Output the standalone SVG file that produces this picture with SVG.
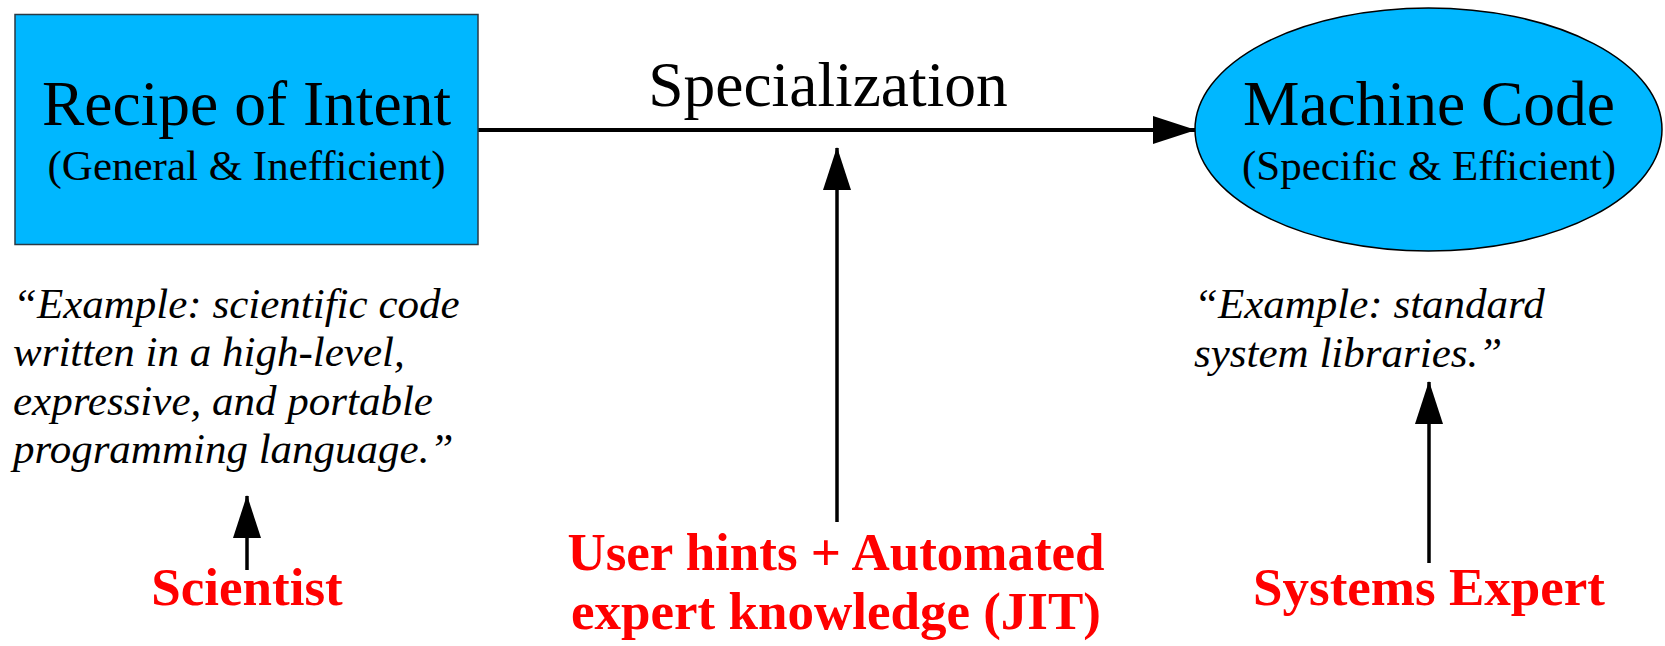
<svg xmlns="http://www.w3.org/2000/svg" width="1665" height="646" viewBox="0 0 1665 646">
  <defs>
    <marker id="arrow" markerUnits="userSpaceOnUse" markerWidth="43" markerHeight="28" refX="42" refY="14" orient="auto">
      <path d="M0,0 L43,14 L0,28 z" fill="#000"/>
    </marker>
    <style>
      .node-fill { fill: #00b7ff; }
      .title { font-family: "Liberation Serif", "Times New Roman", serif; font-size: 63.5px; fill: #000; text-anchor: middle; }
      .sub { font-family: "Liberation Serif", "Times New Roman", serif; font-size: 43px; fill: #000; text-anchor: middle; }
      .note { font-family: "Liberation Serif", "Times New Roman", serif; font-size: 43px; font-style: italic; fill: #000; }
      .actor { font-family: "Liberation Serif", "Times New Roman", serif; font-size: 53px; font-weight: bold; fill: #ff0000; text-anchor: middle; }
      .edge { stroke: #000; fill: none; marker-end: url(#arrow); }
    </style>
  </defs>
  <rect width="1665" height="646" fill="#fff"/>

  <!-- Connectors -->
  <g id="connectors">
    <line class="edge" x1="478" y1="130" x2="1195" y2="130" stroke-width="4"/>
    <line class="edge" x1="837" y1="522" x2="837" y2="148" stroke-width="3.5"/>
    <line class="edge" x1="247" y1="570" x2="247" y2="496" stroke-width="3.5"/>
    <line class="edge" x1="1429" y1="563" x2="1429" y2="382" stroke-width="3.5"/>
  </g>

  <!-- Source: general recipe -->
  <g id="recipe">
    <rect class="node-fill" x="15" y="14.5" width="463" height="230" stroke="#2a3a44" stroke-width="1.5"/>
    <text class="title" x="246.5" y="125">Recipe of Intent</text>
    <text class="sub" x="246.5" y="180">(General &amp; Inefficient)</text>
  </g>

  <!-- Target: machine code -->
  <g id="machine-code">
    <ellipse class="node-fill" cx="1428.5" cy="129.5" rx="233.5" ry="121.5" stroke="#000" stroke-width="1.5"/>
    <text class="title" x="1429" y="125">Machine Code</text>
    <text class="sub" x="1429" y="180">(Specific &amp; Efficient)</text>
  </g>

  <!-- Edge label -->
  <g id="specialization">
    <text class="title" x="828" y="106">Specialization</text>
  </g>

  <!-- Example notes -->
  <g id="recipe-example">
    <text class="note" x="13" y="318">“Example: scientific code</text>
    <text class="note" x="13" y="366">written in a high-level,</text>
    <text class="note" x="13" y="415">expressive, and portable</text>
    <text class="note" x="13" y="463">programming language.”</text>
  </g>
  <g id="machine-example">
    <text class="note" x="1194" y="318">“Example: standard</text>
    <text class="note" x="1194" y="367">system libraries.”</text>
  </g>

  <!-- Actors -->
  <g id="scientist">
    <text class="actor" x="247" y="605">Scientist</text>
  </g>
  <g id="jit">
    <text class="actor" x="836" y="570">User hints + Automated</text>
    <text class="actor" x="836" y="629">expert knowledge (JIT)</text>
  </g>
  <g id="systems-expert">
    <text class="actor" x="1429" y="605">Systems Expert</text>
  </g>
</svg>
